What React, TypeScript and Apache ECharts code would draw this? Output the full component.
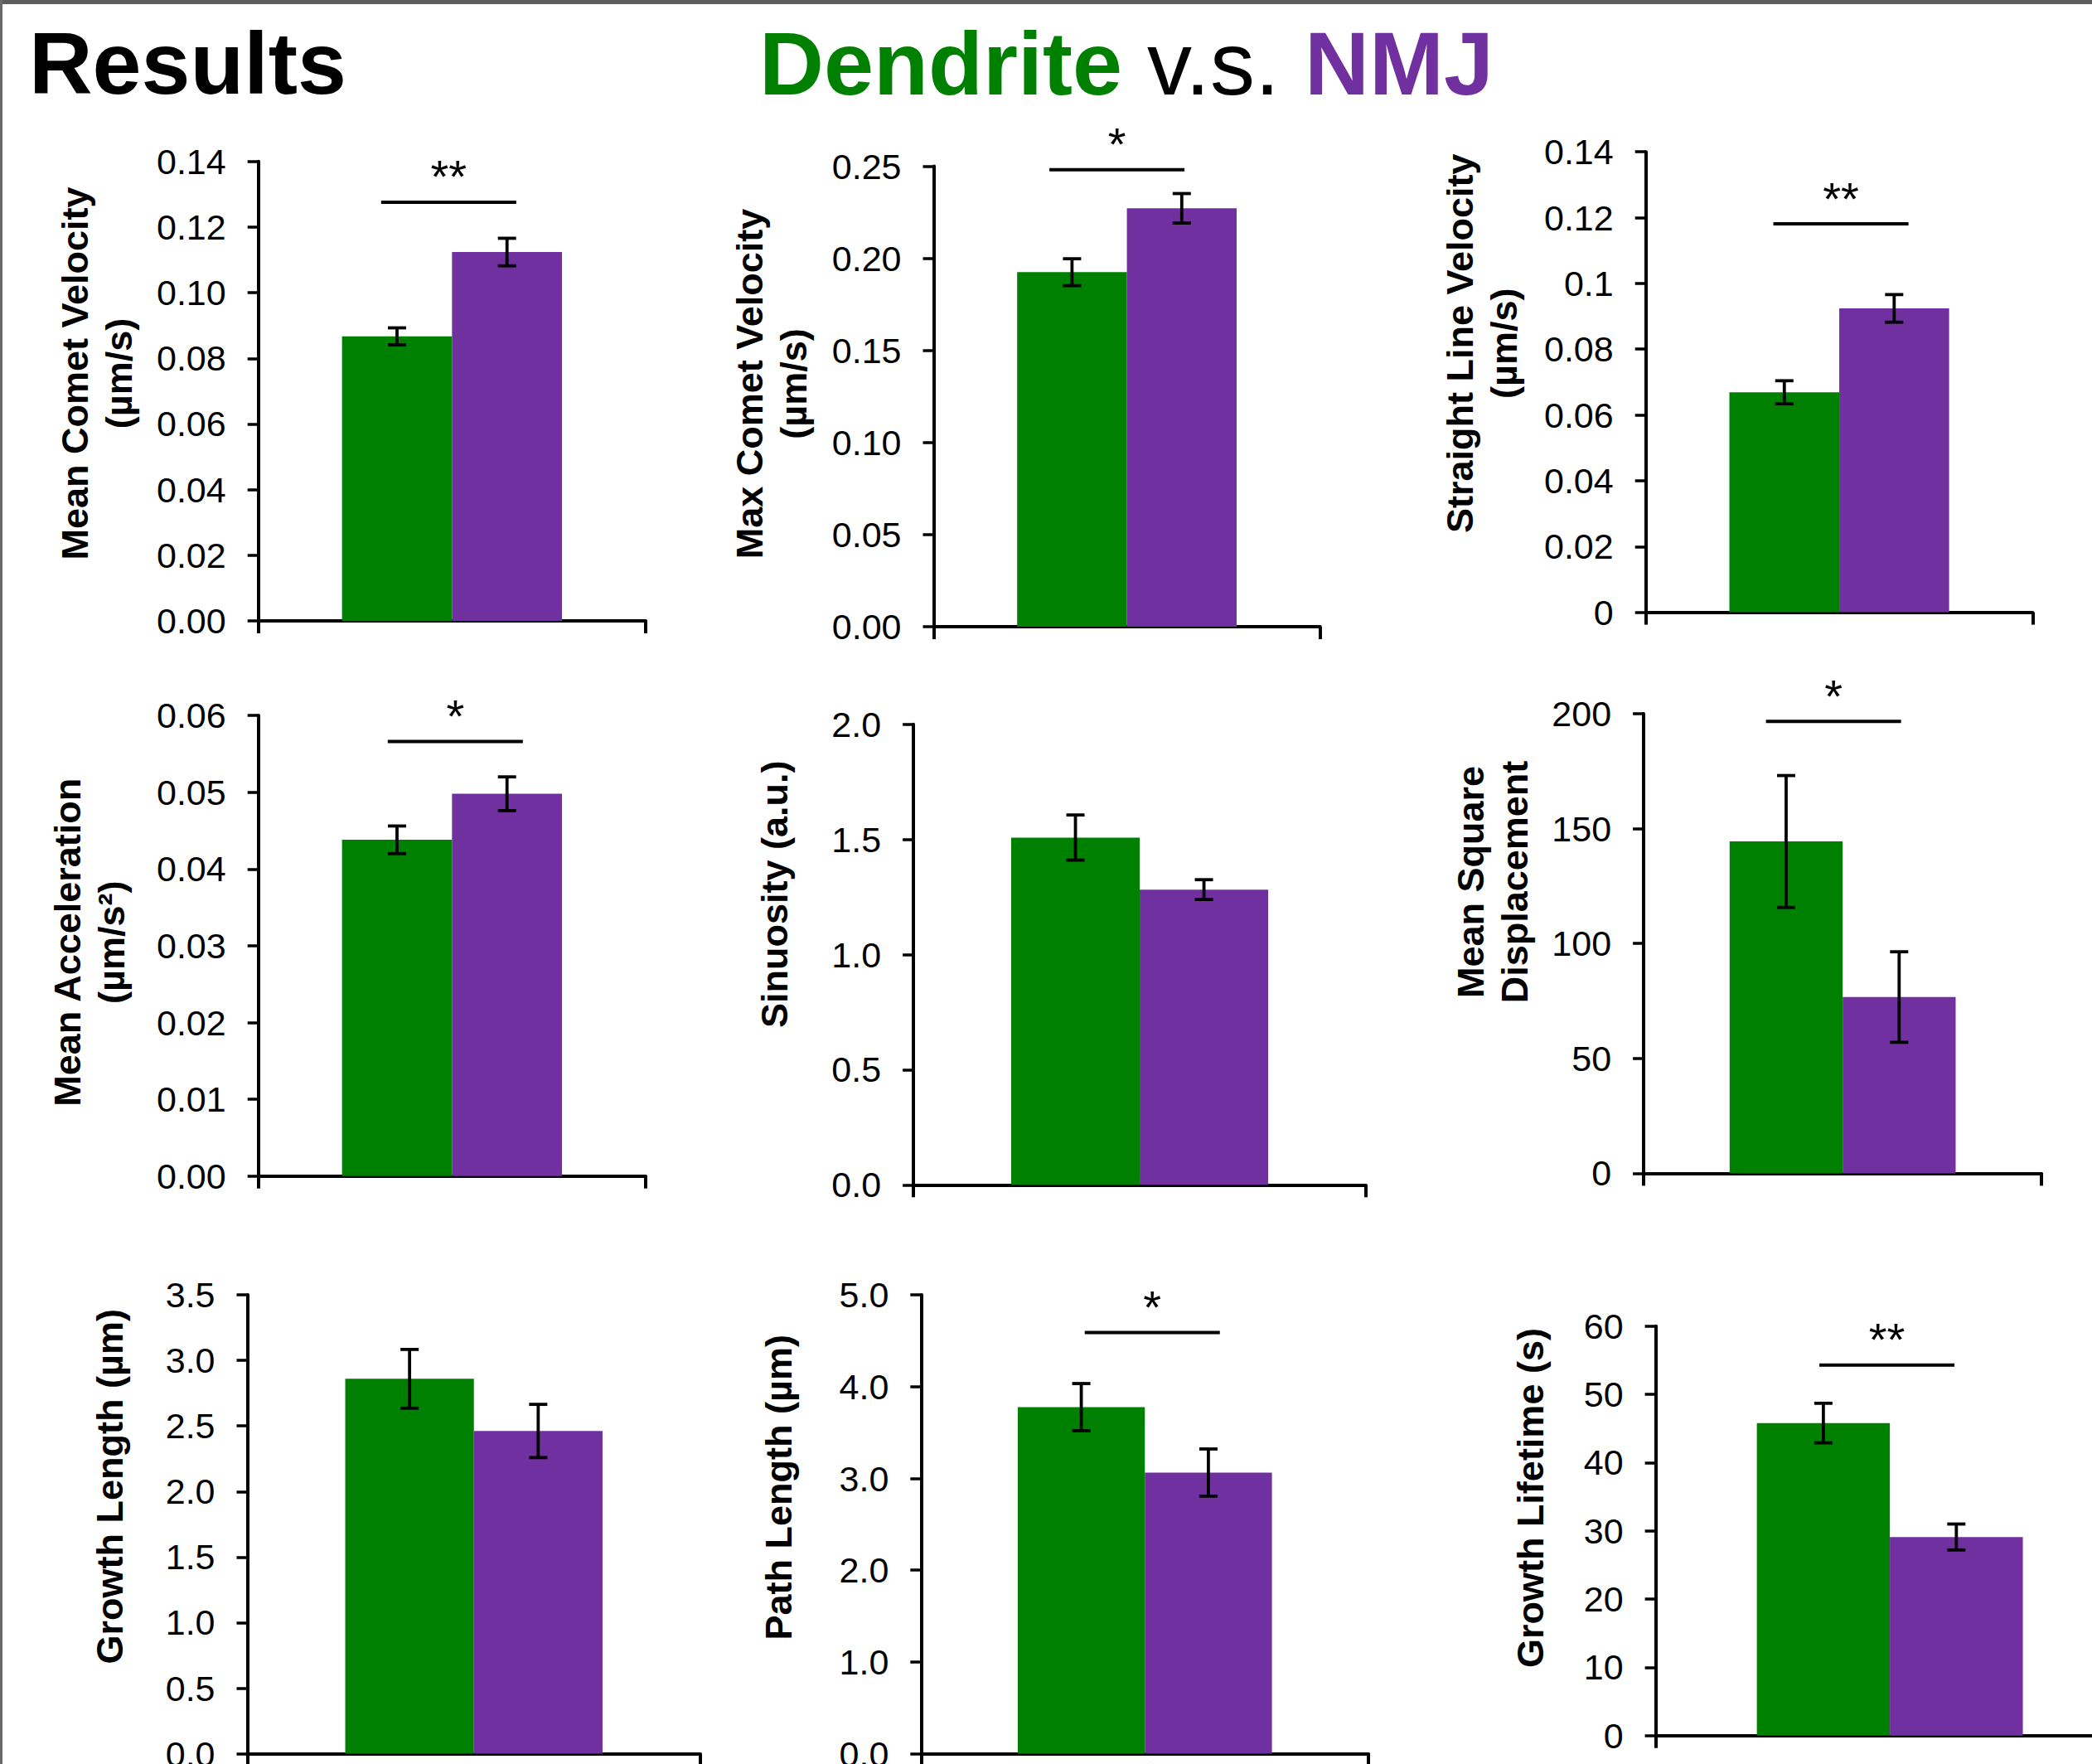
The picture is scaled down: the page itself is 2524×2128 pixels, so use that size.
import React, { useEffect, useRef } from 'react';
import * as echarts from 'echarts';

// ---------------- data ----------------
const groups = ['Dendrite', 'NMJ'];
const panelTitles = [
  'Mean Comet Velocity\n(µm/s)',
  'Max Comet Velocity\n(µm/s)',
  'Straight Line Velocity\n(µm/s)',
  'Mean Acceleration\n(µm/s²)',
  'Sinuosity (a.u.)',
  'Mean Square\nDisplacement',
  'Growth Length (µm)',
  'Path Length (µm)',
  'Growth Lifetime (s)',
];
const dendriteMean = [0.0867, 0.1925, 0.0669, 0.0438, 1.508, 144.4, 2.86, 3.777, 45.8];
const dendriteSem = [0.0026, 0.0073, 0.0035, 0.0018, 0.098, 28.7, 0.224, 0.257, 2.9];
const nmjMean = [0.1124, 0.2272, 0.0924, 0.0498, 1.282, 76.7, 2.462, 3.064, 29.1];
const nmjSem = [0.0042, 0.008, 0.0042, 0.0022, 0.043, 19.7, 0.203, 0.257, 1.9];
const axisMax = [0.14, 0.25, 0.14, 0.06, 2.0, 200, 3.5, 5.0, 60];
const axisStep = [0.02, 0.05, 0.02, 0.01, 0.5, 50, 0.5, 1.0, 10];
const tickDecimals: (number | null)[] = [2, 2, null, 2, 1, null, 1, 1, null];
const sigMarks = ['**', '*', '**', '*', '', '*', '', '*', '**'];
const sigLevel: (number | null)[] = [0.1276, 0.2481, 0.1181, 0.0566, null, 196.7, null, 4.591, 54.31];

// ---------------- layout ----------------
const gridBoxes = [
  [311.7, 194.8, 467.3, 554.2],
  [1126.5, 200.6, 466.2, 555.5],
  [1985.7, 183.2, 466.7, 555.4],
  [311.7, 863.1, 467.3, 555.6],
  [1102.1, 873.7, 545.9, 555.6],
  [1983.1, 861, 480.1, 554.4],
  [298.5, 1562.1, 546.5, 553.5],
  [1111.3, 1562.1, 539.9, 553.5],
  [1997.6, 1599.8, 565, 493.9],
];
const titleCenters = [
  [116.5, 450.5],
  [931.3, 463],
  [1787.6, 414.2],
  [108.4, 1136.7],
  [934, 1078.8],
  [1801.1, 1064],
  [132, 1793.3],
  [939.4, 1794.3],
  [1846.9, 1807.1],
];
const sigShift = [-4, -12, 2, 4, 0, -11, 0, 9, -3.5];

const GREEN = '#008000';
const PURPLE = '#7030A0';
const FONT = '"Liberation Sans", Arial, Helvetica, sans-serif';
const BAR_FRAC = 0.284;
const AXIS_W = 4;

function buildOption() {
  const grid: any[] = [];
  const xAxis: any[] = [];
  const yAxis: any[] = [];
  const series: any[] = [];
  const graphic: any[] = [];

  panelTitles.forEach((title, i) => {
    const [l, t, w, h] = gridBoxes[i];
    grid.push({ left: l, top: t, width: w, height: h, containLabel: false, outerBoundsMode: 'none' });
    xAxis.push({
      type: 'category',
      gridIndex: i,
      data: [''],
      axisLine: { show: true, lineStyle: { color: '#000', width: AXIS_W } },
      axisTick: { show: true, length: 15, lineStyle: { color: '#000', width: AXIS_W } },
      axisLabel: { show: false },
      splitLine: { show: false },
    });
    const d = tickDecimals[i];
    yAxis.push({
      type: 'value',
      gridIndex: i,
      min: 0,
      max: axisMax[i],
      interval: axisStep[i],
      axisLine: { show: true, lineStyle: { color: '#000', width: AXIS_W } },
      axisTick: { show: true, length: 13, lineStyle: { color: '#000', width: 3.5 } },
      axisLabel: {
        fontSize: 43,
        color: '#000',
        fontFamily: FONT,
        margin: 39,
        formatter: (v: number) => (d === null ? String(+v.toFixed(6)) : v.toFixed(d)),
      },
      splitLine: { show: false },
    });
    const bw = BAR_FRAC * w;
    series.push({
      name: groups[0],
      type: 'bar',
      xAxisIndex: i,
      yAxisIndex: i,
      data: [dendriteMean[i]],
      barWidth: bw,
      barGap: '0%',
      itemStyle: { color: GREEN },
    });
    series.push({
      name: groups[1],
      type: 'bar',
      xAxisIndex: i,
      yAxisIndex: i,
      data: [nmjMean[i]],
      barWidth: bw,
      barGap: '0%',
      itemStyle: { color: PURPLE },
    });
    series.push({
      type: 'custom',
      xAxisIndex: i,
      yAxisIndex: i,
      clip: false,
      z: 5,
      data: [
        [0, dendriteMean[i], dendriteSem[i], 0],
        [0, nmjMean[i], nmjSem[i], 1],
      ],
      renderItem: (params: any, api: any) => {
        const x = api.value(0);
        const m = api.value(1);
        const e = api.value(2);
        const k = api.value(3);
        const c = api.coord([x, m]);
        const cx = c[0] + (k === 0 ? -0.5 : 0.5) * bw;
        const top = api.coord([x, m + e])[1];
        const bot = api.coord([x, m - e])[1];
        const cap = 11;
        const st = { stroke: '#000', lineWidth: 3.8 };
        return {
          type: 'group',
          children: [
            { type: 'line', shape: { x1: cx, y1: top, x2: cx, y2: bot }, style: st },
            { type: 'line', shape: { x1: cx - cap, y1: top, x2: cx + cap, y2: top }, style: st },
            { type: 'line', shape: { x1: cx - cap, y1: bot, x2: cx + cap, y2: bot }, style: st },
          ],
        };
      },
    });
    const lvl = sigLevel[i];
    if (lvl !== null) {
      const mark = sigMarks[i];
      const shift = sigShift[i];
      series.push({
        type: 'custom',
        xAxisIndex: i,
        yAxisIndex: i,
        clip: false,
        z: 5,
        data: [[0, lvl]],
        renderItem: (params: any, api: any) => {
          const p = api.coord([api.value(0), api.value(1)]);
          const cx = p[0] + shift;
          const half = 81.5;
          return {
            type: 'group',
            children: [
              {
                type: 'line',
                shape: { x1: cx - half, y1: p[1], x2: cx + half, y2: p[1] },
                style: { stroke: '#000', lineWidth: 4 },
              },
              {
                type: 'text',
                x: cx,
                y: p[1] - 31,
                style: {
                  text: mark,
                  fill: '#000',
                  font: `56px ${FONT}`,
                  align: 'center',
                  verticalAlign: 'middle',
                },
              },
            ],
          };
        },
      });
    }
    const [tx, ty] = titleCenters[i];
    graphic.push({
      type: 'text',
      x: tx,
      y: ty,
      rotation: Math.PI / 2,
      style: {
        text: title,
        fill: '#000',
        font: `bold 45px ${FONT}`,
        lineHeight: 53,
        align: 'center',
        verticalAlign: 'middle',
      },
    });
  });

  // frame & headings
  graphic.push({ type: 'rect', shape: { x: 0, y: 0, width: 2524, height: 5 }, style: { fill: '#5e5e5e' } });
  graphic.push({ type: 'rect', shape: { x: 0, y: 0, width: 3, height: 2128 }, style: { fill: '#6a6a6a' } });
  graphic.push({
    type: 'text',
    x: 35,
    y: 76,
    style: {
      text: 'Results',
      fill: '#000',
      font: `bold 106px ${FONT}`,
      align: 'left',
      verticalAlign: 'middle',
    },
  });
  graphic.push({
    type: 'text',
    x: 916,
    y: 76,
    style: {
      text: '{g|Dendrite}{k| v.s. }{p|NMJ}',
      align: 'left',
      verticalAlign: 'middle',
      rich: {
        g: { fill: GREEN, font: `bold 108px ${FONT}` },
        k: { fill: '#000', font: `108px ${FONT}` },
        p: { fill: PURPLE, font: `bold 108px ${FONT}` },
      },
    },
  });

  return {
    animation: false,
    backgroundColor: '#ffffff',
    textStyle: { fontFamily: FONT },
    grid,
    xAxis,
    yAxis,
    series,
    graphic,
  };
}

export default function App() {
  const ref = useRef<HTMLDivElement>(null);
  useEffect(() => {
    document.body.style.margin = '0';
    if (!ref.current) return;
    const chart = echarts.init(ref.current, undefined, { renderer: 'svg' });
    chart.setOption(buildOption() as any);
    return () => chart.dispose();
  }, []);
  return <div ref={ref} style={{ width: 2524, height: 2128, background: '#fff' }} />;
}
